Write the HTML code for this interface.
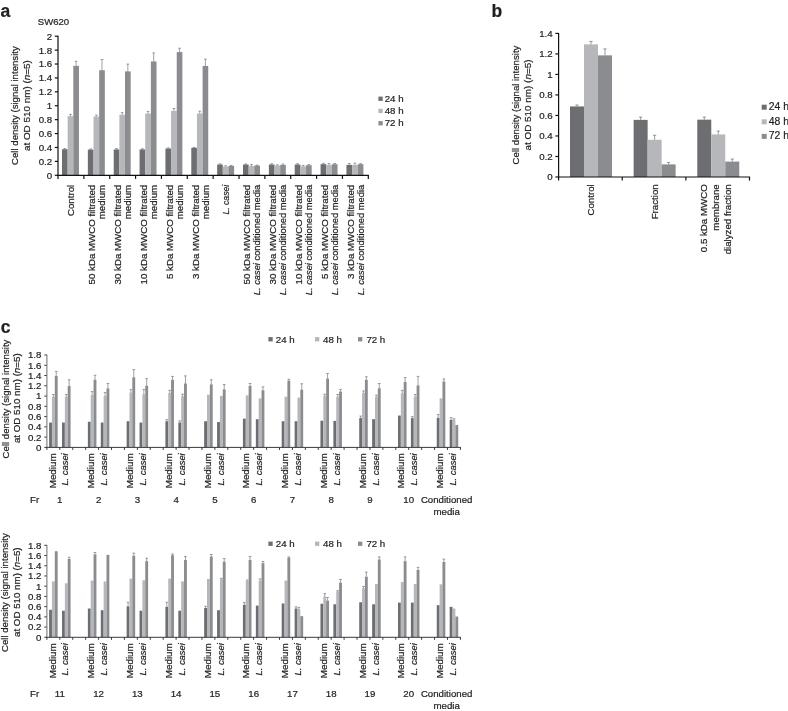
<!DOCTYPE html>
<html><head><meta charset="utf-8"><title>Figure</title>
<style>
html,body{margin:0;padding:0;background:#fff;}
svg{display:block;}
text{font-family:"Liberation Sans",Arial,Helvetica,sans-serif;font-size:9.7px;fill:#231f20;stroke:#231f20;stroke-width:0.22px;}
</style></head><body>
<svg width="788" height="711" viewBox="0 0 788 711">
<rect width="788" height="711" fill="#fff"/>
<text x="0.40" y="16.80" style="font-size:17.5px" font-weight="bold">a</text>
<text x="37.80" y="24.80" textLength="31.4" lengthAdjust="spacingAndGlyphs">SW620</text>
<text x="18.20" y="105.60" text-anchor="middle" transform="rotate(-90 18.20 105.60)" textLength="118.8" lengthAdjust="spacingAndGlyphs">Cell density (signal intensity</text>
<text x="30.00" y="105.60" text-anchor="middle" transform="rotate(-90 30.00 105.60)" textLength="91.0" lengthAdjust="spacingAndGlyphs">at OD 510 nm) (<tspan font-style="italic">n</tspan>=5)</text>
<line x1="54.80" y1="175.30" x2="58.00" y2="175.30" stroke="#111" stroke-width="1.2"/>
<text x="52.20" y="178.70" text-anchor="end">0</text>
<line x1="54.80" y1="161.39" x2="58.00" y2="161.39" stroke="#111" stroke-width="1.2"/>
<text x="52.20" y="164.79" text-anchor="end">0.2</text>
<line x1="54.80" y1="147.48" x2="58.00" y2="147.48" stroke="#111" stroke-width="1.2"/>
<text x="52.20" y="150.88" text-anchor="end">0.4</text>
<line x1="54.80" y1="133.57" x2="58.00" y2="133.57" stroke="#111" stroke-width="1.2"/>
<text x="52.20" y="136.97" text-anchor="end">0.6</text>
<line x1="54.80" y1="119.66" x2="58.00" y2="119.66" stroke="#111" stroke-width="1.2"/>
<text x="52.20" y="123.06" text-anchor="end">0.8</text>
<line x1="54.80" y1="105.75" x2="58.00" y2="105.75" stroke="#111" stroke-width="1.2"/>
<text x="52.20" y="109.15" text-anchor="end">1</text>
<line x1="54.80" y1="91.84" x2="58.00" y2="91.84" stroke="#111" stroke-width="1.2"/>
<text x="52.20" y="95.24" text-anchor="end">1.2</text>
<line x1="54.80" y1="77.93" x2="58.00" y2="77.93" stroke="#111" stroke-width="1.2"/>
<text x="52.20" y="81.33" text-anchor="end">1.4</text>
<line x1="54.80" y1="64.02" x2="58.00" y2="64.02" stroke="#111" stroke-width="1.2"/>
<text x="52.20" y="67.42" text-anchor="end">1.6</text>
<line x1="54.80" y1="50.11" x2="58.00" y2="50.11" stroke="#111" stroke-width="1.2"/>
<text x="52.20" y="53.51" text-anchor="end">1.8</text>
<line x1="54.80" y1="36.20" x2="58.00" y2="36.20" stroke="#111" stroke-width="1.2"/>
<text x="52.20" y="39.60" text-anchor="end">2</text>
<rect x="62.00" y="149.22" width="5.65" height="26.08" fill="#6d6e71"/>
<line x1="64.83" y1="149.22" x2="64.83" y2="148.52" stroke="#6d6e71" stroke-width="0.65"/>
<line x1="63.48" y1="148.52" x2="66.17" y2="148.52" stroke="#6d6e71" stroke-width="0.65"/>
<rect x="67.65" y="116.18" width="5.65" height="59.12" fill="#b5b7ba"/>
<line x1="70.48" y1="116.18" x2="70.48" y2="114.44" stroke="#6d6e71" stroke-width="0.65"/>
<line x1="69.13" y1="114.44" x2="71.83" y2="114.44" stroke="#6d6e71" stroke-width="0.65"/>
<rect x="73.30" y="65.83" width="5.65" height="109.47" fill="#8a8c8f"/>
<line x1="76.12" y1="65.83" x2="76.12" y2="61.31" stroke="#6d6e71" stroke-width="0.65"/>
<line x1="74.78" y1="61.31" x2="77.47" y2="61.31" stroke="#6d6e71" stroke-width="0.65"/>
<rect x="87.86" y="149.57" width="5.65" height="25.73" fill="#6d6e71"/>
<line x1="90.68" y1="149.57" x2="90.68" y2="148.87" stroke="#6d6e71" stroke-width="0.65"/>
<line x1="89.33" y1="148.87" x2="92.03" y2="148.87" stroke="#6d6e71" stroke-width="0.65"/>
<rect x="93.51" y="116.53" width="5.65" height="58.77" fill="#b5b7ba"/>
<line x1="96.33" y1="116.53" x2="96.33" y2="115.14" stroke="#6d6e71" stroke-width="0.65"/>
<line x1="94.98" y1="115.14" x2="97.68" y2="115.14" stroke="#6d6e71" stroke-width="0.65"/>
<rect x="99.16" y="70.21" width="5.65" height="105.09" fill="#8a8c8f"/>
<line x1="101.98" y1="70.21" x2="101.98" y2="59.50" stroke="#6d6e71" stroke-width="0.65"/>
<line x1="100.63" y1="59.50" x2="103.33" y2="59.50" stroke="#6d6e71" stroke-width="0.65"/>
<rect x="113.72" y="149.43" width="5.65" height="25.87" fill="#6d6e71"/>
<line x1="116.54" y1="149.43" x2="116.54" y2="148.59" stroke="#6d6e71" stroke-width="0.65"/>
<line x1="115.19" y1="148.59" x2="117.89" y2="148.59" stroke="#6d6e71" stroke-width="0.65"/>
<rect x="119.37" y="114.79" width="5.65" height="60.51" fill="#b5b7ba"/>
<line x1="122.19" y1="114.79" x2="122.19" y2="112.70" stroke="#6d6e71" stroke-width="0.65"/>
<line x1="120.84" y1="112.70" x2="123.54" y2="112.70" stroke="#6d6e71" stroke-width="0.65"/>
<rect x="125.02" y="71.39" width="5.65" height="103.91" fill="#8a8c8f"/>
<line x1="127.84" y1="71.39" x2="127.84" y2="64.09" stroke="#6d6e71" stroke-width="0.65"/>
<line x1="126.49" y1="64.09" x2="129.19" y2="64.09" stroke="#6d6e71" stroke-width="0.65"/>
<rect x="139.57" y="149.43" width="5.65" height="25.87" fill="#6d6e71"/>
<line x1="142.40" y1="149.43" x2="142.40" y2="148.73" stroke="#6d6e71" stroke-width="0.65"/>
<line x1="141.05" y1="148.73" x2="143.75" y2="148.73" stroke="#6d6e71" stroke-width="0.65"/>
<rect x="145.22" y="113.54" width="5.65" height="61.76" fill="#b5b7ba"/>
<line x1="148.05" y1="113.54" x2="148.05" y2="111.45" stroke="#6d6e71" stroke-width="0.65"/>
<line x1="146.70" y1="111.45" x2="149.40" y2="111.45" stroke="#6d6e71" stroke-width="0.65"/>
<rect x="150.88" y="61.45" width="5.65" height="113.85" fill="#8a8c8f"/>
<line x1="153.70" y1="61.45" x2="153.70" y2="52.89" stroke="#6d6e71" stroke-width="0.65"/>
<line x1="152.35" y1="52.89" x2="155.05" y2="52.89" stroke="#6d6e71" stroke-width="0.65"/>
<rect x="165.43" y="148.52" width="5.65" height="26.78" fill="#6d6e71"/>
<line x1="168.26" y1="148.52" x2="168.26" y2="147.83" stroke="#6d6e71" stroke-width="0.65"/>
<line x1="166.91" y1="147.83" x2="169.61" y2="147.83" stroke="#6d6e71" stroke-width="0.65"/>
<rect x="171.08" y="110.97" width="5.65" height="64.33" fill="#b5b7ba"/>
<line x1="173.91" y1="110.97" x2="173.91" y2="108.53" stroke="#6d6e71" stroke-width="0.65"/>
<line x1="172.56" y1="108.53" x2="175.26" y2="108.53" stroke="#6d6e71" stroke-width="0.65"/>
<rect x="176.73" y="52.06" width="5.65" height="123.24" fill="#8a8c8f"/>
<line x1="179.56" y1="52.06" x2="179.56" y2="48.23" stroke="#6d6e71" stroke-width="0.65"/>
<line x1="178.21" y1="48.23" x2="180.91" y2="48.23" stroke="#6d6e71" stroke-width="0.65"/>
<rect x="191.29" y="147.83" width="5.65" height="27.47" fill="#6d6e71"/>
<line x1="194.12" y1="147.83" x2="194.12" y2="147.41" stroke="#6d6e71" stroke-width="0.65"/>
<line x1="192.77" y1="147.41" x2="195.47" y2="147.41" stroke="#6d6e71" stroke-width="0.65"/>
<rect x="196.94" y="113.54" width="5.65" height="61.76" fill="#b5b7ba"/>
<line x1="199.77" y1="113.54" x2="199.77" y2="111.11" stroke="#6d6e71" stroke-width="0.65"/>
<line x1="198.42" y1="111.11" x2="201.12" y2="111.11" stroke="#6d6e71" stroke-width="0.65"/>
<rect x="202.59" y="65.97" width="5.65" height="109.33" fill="#8a8c8f"/>
<line x1="205.42" y1="65.97" x2="205.42" y2="59.15" stroke="#6d6e71" stroke-width="0.65"/>
<line x1="204.07" y1="59.15" x2="206.77" y2="59.15" stroke="#6d6e71" stroke-width="0.65"/>
<rect x="217.15" y="164.52" width="5.65" height="10.78" fill="#6d6e71"/>
<line x1="219.97" y1="164.52" x2="219.97" y2="163.82" stroke="#6d6e71" stroke-width="0.65"/>
<line x1="218.62" y1="163.82" x2="221.32" y2="163.82" stroke="#6d6e71" stroke-width="0.65"/>
<rect x="222.80" y="166.61" width="5.65" height="8.69" fill="#b5b7ba"/>
<line x1="225.62" y1="166.61" x2="225.62" y2="165.77" stroke="#6d6e71" stroke-width="0.65"/>
<line x1="224.28" y1="165.77" x2="226.97" y2="165.77" stroke="#6d6e71" stroke-width="0.65"/>
<rect x="228.45" y="165.91" width="5.65" height="9.39" fill="#8a8c8f"/>
<line x1="231.28" y1="165.91" x2="231.28" y2="165.35" stroke="#6d6e71" stroke-width="0.65"/>
<line x1="229.93" y1="165.35" x2="232.62" y2="165.35" stroke="#6d6e71" stroke-width="0.65"/>
<rect x="243.01" y="164.52" width="5.65" height="10.78" fill="#6d6e71"/>
<line x1="245.83" y1="164.52" x2="245.83" y2="163.96" stroke="#6d6e71" stroke-width="0.65"/>
<line x1="244.48" y1="163.96" x2="247.18" y2="163.96" stroke="#6d6e71" stroke-width="0.65"/>
<rect x="248.66" y="165.91" width="5.65" height="9.39" fill="#b5b7ba"/>
<line x1="251.48" y1="165.91" x2="251.48" y2="164.52" stroke="#6d6e71" stroke-width="0.65"/>
<line x1="250.13" y1="164.52" x2="252.83" y2="164.52" stroke="#6d6e71" stroke-width="0.65"/>
<rect x="254.31" y="165.56" width="5.65" height="9.74" fill="#8a8c8f"/>
<line x1="257.13" y1="165.56" x2="257.13" y2="165.15" stroke="#6d6e71" stroke-width="0.65"/>
<line x1="255.78" y1="165.15" x2="258.48" y2="165.15" stroke="#6d6e71" stroke-width="0.65"/>
<rect x="268.87" y="164.52" width="5.65" height="10.78" fill="#6d6e71"/>
<line x1="271.69" y1="164.52" x2="271.69" y2="163.69" stroke="#6d6e71" stroke-width="0.65"/>
<line x1="270.34" y1="163.69" x2="273.04" y2="163.69" stroke="#6d6e71" stroke-width="0.65"/>
<rect x="274.52" y="165.56" width="5.65" height="9.74" fill="#b5b7ba"/>
<line x1="277.34" y1="165.56" x2="277.34" y2="164.87" stroke="#6d6e71" stroke-width="0.65"/>
<line x1="275.99" y1="164.87" x2="278.69" y2="164.87" stroke="#6d6e71" stroke-width="0.65"/>
<rect x="280.17" y="164.87" width="5.65" height="10.43" fill="#8a8c8f"/>
<line x1="282.99" y1="164.87" x2="282.99" y2="164.03" stroke="#6d6e71" stroke-width="0.65"/>
<line x1="281.64" y1="164.03" x2="284.34" y2="164.03" stroke="#6d6e71" stroke-width="0.65"/>
<rect x="294.73" y="164.52" width="5.65" height="10.78" fill="#6d6e71"/>
<line x1="297.55" y1="164.52" x2="297.55" y2="163.69" stroke="#6d6e71" stroke-width="0.65"/>
<line x1="296.20" y1="163.69" x2="298.90" y2="163.69" stroke="#6d6e71" stroke-width="0.65"/>
<rect x="300.38" y="166.26" width="5.65" height="9.04" fill="#b5b7ba"/>
<line x1="303.20" y1="166.26" x2="303.20" y2="165.42" stroke="#6d6e71" stroke-width="0.65"/>
<line x1="301.85" y1="165.42" x2="304.55" y2="165.42" stroke="#6d6e71" stroke-width="0.65"/>
<rect x="306.03" y="165.22" width="5.65" height="10.08" fill="#8a8c8f"/>
<line x1="308.85" y1="165.22" x2="308.85" y2="164.52" stroke="#6d6e71" stroke-width="0.65"/>
<line x1="307.50" y1="164.52" x2="310.20" y2="164.52" stroke="#6d6e71" stroke-width="0.65"/>
<rect x="320.58" y="164.17" width="5.65" height="11.13" fill="#6d6e71"/>
<line x1="323.41" y1="164.17" x2="323.41" y2="163.34" stroke="#6d6e71" stroke-width="0.65"/>
<line x1="322.06" y1="163.34" x2="324.76" y2="163.34" stroke="#6d6e71" stroke-width="0.65"/>
<rect x="326.23" y="164.87" width="5.65" height="10.43" fill="#b5b7ba"/>
<line x1="329.06" y1="164.87" x2="329.06" y2="163.48" stroke="#6d6e71" stroke-width="0.65"/>
<line x1="327.71" y1="163.48" x2="330.41" y2="163.48" stroke="#6d6e71" stroke-width="0.65"/>
<rect x="331.88" y="164.17" width="5.65" height="11.13" fill="#8a8c8f"/>
<line x1="334.71" y1="164.17" x2="334.71" y2="163.48" stroke="#6d6e71" stroke-width="0.65"/>
<line x1="333.36" y1="163.48" x2="336.06" y2="163.48" stroke="#6d6e71" stroke-width="0.65"/>
<rect x="346.44" y="164.87" width="5.65" height="10.43" fill="#6d6e71"/>
<line x1="349.27" y1="164.87" x2="349.27" y2="163.48" stroke="#6d6e71" stroke-width="0.65"/>
<line x1="347.92" y1="163.48" x2="350.62" y2="163.48" stroke="#6d6e71" stroke-width="0.65"/>
<rect x="352.09" y="164.87" width="5.65" height="10.43" fill="#b5b7ba"/>
<line x1="354.92" y1="164.87" x2="354.92" y2="163.13" stroke="#6d6e71" stroke-width="0.65"/>
<line x1="353.57" y1="163.13" x2="356.27" y2="163.13" stroke="#6d6e71" stroke-width="0.65"/>
<rect x="357.74" y="164.17" width="5.65" height="11.13" fill="#8a8c8f"/>
<line x1="360.57" y1="164.17" x2="360.57" y2="163.62" stroke="#6d6e71" stroke-width="0.65"/>
<line x1="359.22" y1="163.62" x2="361.92" y2="163.62" stroke="#6d6e71" stroke-width="0.65"/>
<line x1="58.00" y1="35.70" x2="58.00" y2="175.90" stroke="#111" stroke-width="1.2"/>
<line x1="57.40" y1="175.30" x2="368.90" y2="175.30" stroke="#111" stroke-width="1.2"/>
<line x1="58.00" y1="175.30" x2="58.00" y2="178.90" stroke="#111" stroke-width="1.2"/>
<line x1="83.86" y1="175.30" x2="83.86" y2="178.90" stroke="#111" stroke-width="1.2"/>
<line x1="109.72" y1="175.30" x2="109.72" y2="178.90" stroke="#111" stroke-width="1.2"/>
<line x1="135.57" y1="175.30" x2="135.57" y2="178.90" stroke="#111" stroke-width="1.2"/>
<line x1="161.43" y1="175.30" x2="161.43" y2="178.90" stroke="#111" stroke-width="1.2"/>
<line x1="187.29" y1="175.30" x2="187.29" y2="178.90" stroke="#111" stroke-width="1.2"/>
<line x1="213.15" y1="175.30" x2="213.15" y2="178.90" stroke="#111" stroke-width="1.2"/>
<line x1="239.01" y1="175.30" x2="239.01" y2="178.90" stroke="#111" stroke-width="1.2"/>
<line x1="264.87" y1="175.30" x2="264.87" y2="178.90" stroke="#111" stroke-width="1.2"/>
<line x1="290.73" y1="175.30" x2="290.73" y2="178.90" stroke="#111" stroke-width="1.2"/>
<line x1="316.58" y1="175.30" x2="316.58" y2="178.90" stroke="#111" stroke-width="1.2"/>
<line x1="342.44" y1="175.30" x2="342.44" y2="178.90" stroke="#111" stroke-width="1.2"/>
<line x1="368.30" y1="175.30" x2="368.30" y2="178.90" stroke="#111" stroke-width="1.2"/>
<text x="73.93" y="184.80" text-anchor="end" transform="rotate(-90 73.93 184.80)">Control</text>
<text x="95.19" y="184.80" text-anchor="end" transform="rotate(-90 95.19 184.80)">50 kDa MWCO filtrated</text>
<text x="105.19" y="184.80" text-anchor="end" transform="rotate(-90 105.19 184.80)">medium</text>
<text x="121.05" y="184.80" text-anchor="end" transform="rotate(-90 121.05 184.80)">30 kDa MWCO filtrated</text>
<text x="131.05" y="184.80" text-anchor="end" transform="rotate(-90 131.05 184.80)">medium</text>
<text x="146.90" y="184.80" text-anchor="end" transform="rotate(-90 146.90 184.80)">10 kDa MWCO filtrated</text>
<text x="156.90" y="184.80" text-anchor="end" transform="rotate(-90 156.90 184.80)">medium</text>
<text x="172.76" y="184.80" text-anchor="end" transform="rotate(-90 172.76 184.80)">5 kDa MWCO filtrated</text>
<text x="182.76" y="184.80" text-anchor="end" transform="rotate(-90 182.76 184.80)">medium</text>
<text x="198.62" y="184.80" text-anchor="end" transform="rotate(-90 198.62 184.80)">3 kDa MWCO filtrated</text>
<text x="208.62" y="184.80" text-anchor="end" transform="rotate(-90 208.62 184.80)">medium</text>
<text x="229.08" y="184.80" text-anchor="end" transform="rotate(-90 229.08 184.80)" textLength="29.8" lengthAdjust="spacingAndGlyphs"><tspan font-style="italic">L. casei</tspan></text>
<text x="250.34" y="184.80" text-anchor="end" transform="rotate(-90 250.34 184.80)">50 kDa MWCO filtrated</text>
<text x="260.34" y="184.80" text-anchor="end" transform="rotate(-90 260.34 184.80)" textLength="110.4" lengthAdjust="spacingAndGlyphs"><tspan font-style="italic">L. casei</tspan> conditioned media</text>
<text x="276.20" y="184.80" text-anchor="end" transform="rotate(-90 276.20 184.80)">30 kDa MWCO filtrated</text>
<text x="286.20" y="184.80" text-anchor="end" transform="rotate(-90 286.20 184.80)" textLength="110.4" lengthAdjust="spacingAndGlyphs"><tspan font-style="italic">L. casei</tspan> conditioned media</text>
<text x="302.05" y="184.80" text-anchor="end" transform="rotate(-90 302.05 184.80)">10 kDa MWCO filtrated</text>
<text x="312.05" y="184.80" text-anchor="end" transform="rotate(-90 312.05 184.80)" textLength="110.4" lengthAdjust="spacingAndGlyphs"><tspan font-style="italic">L. casei</tspan> conditioned media</text>
<text x="327.91" y="184.80" text-anchor="end" transform="rotate(-90 327.91 184.80)">5 kDa MWCO filtrated</text>
<text x="337.91" y="184.80" text-anchor="end" transform="rotate(-90 337.91 184.80)" textLength="110.4" lengthAdjust="spacingAndGlyphs"><tspan font-style="italic">L. casei</tspan> conditioned media</text>
<text x="353.77" y="184.80" text-anchor="end" transform="rotate(-90 353.77 184.80)">3 kDa MWCO filtrated</text>
<text x="363.77" y="184.80" text-anchor="end" transform="rotate(-90 363.77 184.80)" textLength="110.4" lengthAdjust="spacingAndGlyphs"><tspan font-style="italic">L. casei</tspan> conditioned media</text>
<rect x="378.40" y="96.60" width="4.30" height="4.30" fill="#6d6e71"/>
<text x="384.70" y="101.60">24 h</text>
<rect x="378.40" y="108.80" width="4.30" height="4.30" fill="#b5b7ba"/>
<text x="384.70" y="113.80">48 h</text>
<rect x="378.40" y="121.10" width="4.30" height="4.30" fill="#8a8c8f"/>
<text x="384.70" y="126.00">72 h</text>
<text x="491.60" y="16.70" style="font-size:17.5px" font-weight="bold">b</text>
<line x1="555.40" y1="177.00" x2="558.60" y2="177.00" stroke="#111" stroke-width="1.2"/>
<text x="552.60" y="180.40" text-anchor="end">0</text>
<line x1="555.40" y1="156.49" x2="558.60" y2="156.49" stroke="#111" stroke-width="1.2"/>
<text x="552.60" y="159.89" text-anchor="end">0.2</text>
<line x1="555.40" y1="135.97" x2="558.60" y2="135.97" stroke="#111" stroke-width="1.2"/>
<text x="552.60" y="139.37" text-anchor="end">0.4</text>
<line x1="555.40" y1="115.46" x2="558.60" y2="115.46" stroke="#111" stroke-width="1.2"/>
<text x="552.60" y="118.86" text-anchor="end">0.6</text>
<line x1="555.40" y1="94.94" x2="558.60" y2="94.94" stroke="#111" stroke-width="1.2"/>
<text x="552.60" y="98.34" text-anchor="end">0.8</text>
<line x1="555.40" y1="74.43" x2="558.60" y2="74.43" stroke="#111" stroke-width="1.2"/>
<text x="552.60" y="77.83" text-anchor="end">1</text>
<line x1="555.40" y1="53.91" x2="558.60" y2="53.91" stroke="#111" stroke-width="1.2"/>
<text x="552.60" y="57.31" text-anchor="end">1.2</text>
<line x1="555.40" y1="33.40" x2="558.60" y2="33.40" stroke="#111" stroke-width="1.2"/>
<text x="552.60" y="36.80" text-anchor="end">1.4</text>
<text x="519.00" y="105.00" text-anchor="middle" transform="rotate(-90 519.00 105.00)" textLength="118.8" lengthAdjust="spacingAndGlyphs">Cell density (signal intensity</text>
<text x="530.80" y="105.00" text-anchor="middle" transform="rotate(-90 530.80 105.00)" textLength="91.0" lengthAdjust="spacingAndGlyphs">at OD 510 nm) (<tspan font-style="italic">n</tspan>=5)</text>
<rect x="570.00" y="106.43" width="14.00" height="70.57" fill="#6d6e71"/>
<line x1="577.00" y1="106.43" x2="577.00" y2="104.99" stroke="#6d6e71" stroke-width="0.7"/>
<line x1="575.40" y1="104.99" x2="578.60" y2="104.99" stroke="#6d6e71" stroke-width="0.7"/>
<rect x="584.00" y="44.38" width="14.00" height="132.62" fill="#b5b7ba"/>
<line x1="591.00" y1="44.38" x2="591.00" y2="41.40" stroke="#6d6e71" stroke-width="0.7"/>
<line x1="589.40" y1="41.40" x2="592.60" y2="41.40" stroke="#6d6e71" stroke-width="0.7"/>
<rect x="598.00" y="55.35" width="14.00" height="121.65" fill="#8a8c8f"/>
<line x1="605.00" y1="55.35" x2="605.00" y2="48.89" stroke="#6d6e71" stroke-width="0.7"/>
<line x1="603.40" y1="48.89" x2="606.60" y2="48.89" stroke="#6d6e71" stroke-width="0.7"/>
<rect x="633.63" y="119.87" width="14.00" height="57.13" fill="#6d6e71"/>
<line x1="640.63" y1="119.87" x2="640.63" y2="117.10" stroke="#6d6e71" stroke-width="0.7"/>
<line x1="639.03" y1="117.10" x2="642.23" y2="117.10" stroke="#6d6e71" stroke-width="0.7"/>
<rect x="647.63" y="139.77" width="14.00" height="37.23" fill="#b5b7ba"/>
<line x1="654.63" y1="139.77" x2="654.63" y2="135.25" stroke="#6d6e71" stroke-width="0.7"/>
<line x1="653.03" y1="135.25" x2="656.23" y2="135.25" stroke="#6d6e71" stroke-width="0.7"/>
<rect x="661.63" y="164.38" width="14.00" height="12.62" fill="#8a8c8f"/>
<line x1="668.63" y1="164.38" x2="668.63" y2="162.43" stroke="#6d6e71" stroke-width="0.7"/>
<line x1="667.03" y1="162.43" x2="670.23" y2="162.43" stroke="#6d6e71" stroke-width="0.7"/>
<rect x="697.27" y="119.66" width="14.00" height="57.34" fill="#6d6e71"/>
<line x1="704.27" y1="119.66" x2="704.27" y2="117.10" stroke="#6d6e71" stroke-width="0.7"/>
<line x1="702.67" y1="117.10" x2="705.87" y2="117.10" stroke="#6d6e71" stroke-width="0.7"/>
<rect x="711.27" y="134.43" width="14.00" height="42.57" fill="#b5b7ba"/>
<line x1="718.27" y1="134.43" x2="718.27" y2="131.05" stroke="#6d6e71" stroke-width="0.7"/>
<line x1="716.67" y1="131.05" x2="719.87" y2="131.05" stroke="#6d6e71" stroke-width="0.7"/>
<rect x="725.27" y="161.61" width="14.00" height="15.39" fill="#8a8c8f"/>
<line x1="732.27" y1="161.61" x2="732.27" y2="159.05" stroke="#6d6e71" stroke-width="0.7"/>
<line x1="730.67" y1="159.05" x2="733.87" y2="159.05" stroke="#6d6e71" stroke-width="0.7"/>
<line x1="558.60" y1="32.90" x2="558.60" y2="177.60" stroke="#111" stroke-width="1.2"/>
<line x1="558.00" y1="177.00" x2="750.10" y2="177.00" stroke="#111" stroke-width="1.2"/>
<line x1="558.60" y1="177.00" x2="558.60" y2="180.60" stroke="#111" stroke-width="1.2"/>
<line x1="622.23" y1="177.00" x2="622.23" y2="180.60" stroke="#111" stroke-width="1.2"/>
<line x1="685.87" y1="177.00" x2="685.87" y2="180.60" stroke="#111" stroke-width="1.2"/>
<line x1="749.50" y1="177.00" x2="749.50" y2="180.60" stroke="#111" stroke-width="1.2"/>
<text x="594.20" y="184.30" text-anchor="end" transform="rotate(-90 594.20 184.30)">Control</text>
<text x="658.50" y="184.30" text-anchor="end" transform="rotate(-90 658.50 184.30)">Fraction</text>
<text x="706.80" y="184.30" text-anchor="end" transform="rotate(-90 706.80 184.30)">0.5 kDa MWCO</text>
<text x="718.70" y="184.30" text-anchor="end" transform="rotate(-90 718.70 184.30)">membrane</text>
<text x="730.60" y="184.30" text-anchor="end" transform="rotate(-90 730.60 184.30)">dialyzed fraction</text>
<rect x="761.70" y="104.70" width="5.00" height="5.00" fill="#6d6e71"/>
<text x="768.70" y="110.10" style="font-size:10.4px">24 h</text>
<rect x="761.70" y="119.30" width="5.00" height="5.00" fill="#b5b7ba"/>
<text x="768.70" y="124.70" style="font-size:10.4px">48 h</text>
<rect x="761.70" y="133.90" width="5.00" height="5.00" fill="#8a8c8f"/>
<text x="768.70" y="139.00" style="font-size:10.4px">72 h</text>
<text x="0.80" y="332.60" style="font-size:17.5px" font-weight="bold">c</text>
<text x="8.80" y="399.00" text-anchor="middle" transform="rotate(-90 8.80 399.00)" textLength="118.8" lengthAdjust="spacingAndGlyphs">Cell density (signal intensity</text>
<text x="19.80" y="398.20" text-anchor="middle" transform="rotate(-90 19.80 398.20)" textLength="89.8" lengthAdjust="spacingAndGlyphs">at OD 510 nm) (<tspan font-style="italic">n</tspan>=5)</text>
<line x1="44.30" y1="447.40" x2="46.90" y2="447.40" stroke="#3a3a3c" stroke-width="1.0"/>
<text x="41.40" y="450.80" text-anchor="end">0</text>
<line x1="44.30" y1="437.13" x2="46.90" y2="437.13" stroke="#3a3a3c" stroke-width="1.0"/>
<text x="41.40" y="440.53" text-anchor="end">0.2</text>
<line x1="44.30" y1="426.87" x2="46.90" y2="426.87" stroke="#3a3a3c" stroke-width="1.0"/>
<text x="41.40" y="430.27" text-anchor="end">0.4</text>
<line x1="44.30" y1="416.60" x2="46.90" y2="416.60" stroke="#3a3a3c" stroke-width="1.0"/>
<text x="41.40" y="420.00" text-anchor="end">0.6</text>
<line x1="44.30" y1="406.33" x2="46.90" y2="406.33" stroke="#3a3a3c" stroke-width="1.0"/>
<text x="41.40" y="409.73" text-anchor="end">0.8</text>
<line x1="44.30" y1="396.07" x2="46.90" y2="396.07" stroke="#3a3a3c" stroke-width="1.0"/>
<text x="41.40" y="399.47" text-anchor="end">1</text>
<line x1="44.30" y1="385.80" x2="46.90" y2="385.80" stroke="#3a3a3c" stroke-width="1.0"/>
<text x="41.40" y="389.20" text-anchor="end">1.2</text>
<line x1="44.30" y1="375.53" x2="46.90" y2="375.53" stroke="#3a3a3c" stroke-width="1.0"/>
<text x="41.40" y="378.93" text-anchor="end">1.4</text>
<line x1="44.30" y1="365.27" x2="46.90" y2="365.27" stroke="#3a3a3c" stroke-width="1.0"/>
<text x="41.40" y="368.67" text-anchor="end">1.6</text>
<line x1="44.30" y1="355.00" x2="46.90" y2="355.00" stroke="#3a3a3c" stroke-width="1.0"/>
<text x="41.40" y="358.40" text-anchor="end">1.8</text>
<rect x="49.10" y="422.55" width="2.85" height="24.85" fill="#6d6e71"/>
<rect x="51.95" y="396.68" width="2.85" height="50.72" fill="#b5b7ba"/>
<line x1="53.38" y1="396.68" x2="53.38" y2="394.53" stroke="#6d6e71" stroke-width="0.65"/>
<line x1="52.02" y1="394.53" x2="54.73" y2="394.53" stroke="#6d6e71" stroke-width="0.65"/>
<rect x="54.80" y="375.89" width="2.85" height="71.51" fill="#8a8c8f"/>
<line x1="56.23" y1="375.89" x2="56.23" y2="371.43" stroke="#6d6e71" stroke-width="0.65"/>
<line x1="54.88" y1="371.43" x2="57.58" y2="371.43" stroke="#6d6e71" stroke-width="0.65"/>
<rect x="62.02" y="422.55" width="2.85" height="24.85" fill="#6d6e71"/>
<rect x="64.87" y="396.68" width="2.85" height="50.72" fill="#b5b7ba"/>
<line x1="66.30" y1="396.68" x2="66.30" y2="394.53" stroke="#6d6e71" stroke-width="0.65"/>
<line x1="64.95" y1="394.53" x2="67.65" y2="394.53" stroke="#6d6e71" stroke-width="0.65"/>
<rect x="67.72" y="386.06" width="2.85" height="61.34" fill="#8a8c8f"/>
<line x1="69.15" y1="386.06" x2="69.15" y2="379.79" stroke="#6d6e71" stroke-width="0.65"/>
<line x1="67.80" y1="379.79" x2="70.50" y2="379.79" stroke="#6d6e71" stroke-width="0.65"/>
<rect x="87.87" y="421.73" width="2.85" height="25.67" fill="#6d6e71"/>
<rect x="90.72" y="395.04" width="2.85" height="52.36" fill="#b5b7ba"/>
<line x1="92.14" y1="395.04" x2="92.14" y2="391.60" stroke="#6d6e71" stroke-width="0.65"/>
<line x1="90.79" y1="391.60" x2="93.49" y2="391.60" stroke="#6d6e71" stroke-width="0.65"/>
<rect x="93.57" y="379.79" width="2.85" height="67.61" fill="#8a8c8f"/>
<line x1="94.99" y1="379.79" x2="94.99" y2="375.23" stroke="#6d6e71" stroke-width="0.65"/>
<line x1="93.64" y1="375.23" x2="96.34" y2="375.23" stroke="#6d6e71" stroke-width="0.65"/>
<rect x="100.79" y="422.55" width="2.85" height="24.85" fill="#6d6e71"/>
<rect x="103.64" y="396.07" width="2.85" height="51.33" fill="#b5b7ba"/>
<line x1="105.06" y1="396.07" x2="105.06" y2="392.47" stroke="#6d6e71" stroke-width="0.65"/>
<line x1="103.71" y1="392.47" x2="106.41" y2="392.47" stroke="#6d6e71" stroke-width="0.65"/>
<rect x="106.49" y="388.37" width="2.85" height="59.03" fill="#8a8c8f"/>
<line x1="107.91" y1="388.37" x2="107.91" y2="383.49" stroke="#6d6e71" stroke-width="0.65"/>
<line x1="106.56" y1="383.49" x2="109.26" y2="383.49" stroke="#6d6e71" stroke-width="0.65"/>
<rect x="126.63" y="421.22" width="2.85" height="26.18" fill="#6d6e71"/>
<rect x="129.48" y="392.47" width="2.85" height="54.93" fill="#b5b7ba"/>
<line x1="130.91" y1="392.47" x2="130.91" y2="389.60" stroke="#6d6e71" stroke-width="0.65"/>
<line x1="129.56" y1="389.60" x2="132.26" y2="389.60" stroke="#6d6e71" stroke-width="0.65"/>
<rect x="132.33" y="377.28" width="2.85" height="70.12" fill="#8a8c8f"/>
<line x1="133.76" y1="377.28" x2="133.76" y2="369.63" stroke="#6d6e71" stroke-width="0.65"/>
<line x1="132.41" y1="369.63" x2="135.11" y2="369.63" stroke="#6d6e71" stroke-width="0.65"/>
<rect x="139.55" y="422.55" width="2.85" height="24.85" fill="#6d6e71"/>
<rect x="142.40" y="394.17" width="2.85" height="53.23" fill="#b5b7ba"/>
<line x1="143.83" y1="394.17" x2="143.83" y2="389.60" stroke="#6d6e71" stroke-width="0.65"/>
<line x1="142.48" y1="389.60" x2="145.18" y2="389.60" stroke="#6d6e71" stroke-width="0.65"/>
<rect x="145.25" y="385.80" width="2.85" height="61.60" fill="#8a8c8f"/>
<line x1="146.68" y1="385.80" x2="146.68" y2="378.61" stroke="#6d6e71" stroke-width="0.65"/>
<line x1="145.33" y1="378.61" x2="148.03" y2="378.61" stroke="#6d6e71" stroke-width="0.65"/>
<rect x="165.40" y="421.22" width="2.85" height="26.18" fill="#6d6e71"/>
<line x1="166.82" y1="421.22" x2="166.82" y2="419.68" stroke="#6d6e71" stroke-width="0.65"/>
<line x1="165.47" y1="419.68" x2="168.17" y2="419.68" stroke="#6d6e71" stroke-width="0.65"/>
<rect x="168.25" y="392.99" width="2.85" height="54.41" fill="#b5b7ba"/>
<line x1="169.67" y1="392.99" x2="169.67" y2="390.42" stroke="#6d6e71" stroke-width="0.65"/>
<line x1="168.32" y1="390.42" x2="171.02" y2="390.42" stroke="#6d6e71" stroke-width="0.65"/>
<rect x="171.10" y="379.79" width="2.85" height="67.61" fill="#8a8c8f"/>
<line x1="172.52" y1="379.79" x2="172.52" y2="376.41" stroke="#6d6e71" stroke-width="0.65"/>
<line x1="171.17" y1="376.41" x2="173.87" y2="376.41" stroke="#6d6e71" stroke-width="0.65"/>
<rect x="178.32" y="422.55" width="2.85" height="24.85" fill="#6d6e71"/>
<line x1="179.74" y1="422.55" x2="179.74" y2="420.86" stroke="#6d6e71" stroke-width="0.65"/>
<line x1="178.39" y1="420.86" x2="181.09" y2="420.86" stroke="#6d6e71" stroke-width="0.65"/>
<rect x="181.17" y="396.17" width="2.85" height="51.23" fill="#b5b7ba"/>
<line x1="182.59" y1="396.17" x2="182.59" y2="394.17" stroke="#6d6e71" stroke-width="0.65"/>
<line x1="181.24" y1="394.17" x2="183.94" y2="394.17" stroke="#6d6e71" stroke-width="0.65"/>
<rect x="184.02" y="383.49" width="2.85" height="63.91" fill="#8a8c8f"/>
<line x1="185.44" y1="383.49" x2="185.44" y2="375.89" stroke="#6d6e71" stroke-width="0.65"/>
<line x1="184.09" y1="375.89" x2="186.79" y2="375.89" stroke="#6d6e71" stroke-width="0.65"/>
<rect x="204.16" y="421.22" width="2.85" height="26.18" fill="#6d6e71"/>
<rect x="207.01" y="394.68" width="2.85" height="52.72" fill="#b5b7ba"/>
<rect x="209.86" y="384.36" width="2.85" height="63.04" fill="#8a8c8f"/>
<line x1="211.29" y1="384.36" x2="211.29" y2="379.79" stroke="#6d6e71" stroke-width="0.65"/>
<line x1="209.94" y1="379.79" x2="212.64" y2="379.79" stroke="#6d6e71" stroke-width="0.65"/>
<rect x="217.08" y="422.04" width="2.85" height="25.36" fill="#6d6e71"/>
<rect x="219.93" y="395.86" width="2.85" height="51.54" fill="#b5b7ba"/>
<rect x="222.78" y="389.39" width="2.85" height="58.01" fill="#8a8c8f"/>
<line x1="224.21" y1="389.39" x2="224.21" y2="384.52" stroke="#6d6e71" stroke-width="0.65"/>
<line x1="222.86" y1="384.52" x2="225.56" y2="384.52" stroke="#6d6e71" stroke-width="0.65"/>
<rect x="242.93" y="418.65" width="2.85" height="28.75" fill="#6d6e71"/>
<rect x="245.78" y="395.35" width="2.85" height="52.05" fill="#b5b7ba"/>
<rect x="248.63" y="385.80" width="2.85" height="61.60" fill="#8a8c8f"/>
<line x1="250.05" y1="385.80" x2="250.05" y2="383.49" stroke="#6d6e71" stroke-width="0.65"/>
<line x1="248.70" y1="383.49" x2="251.40" y2="383.49" stroke="#6d6e71" stroke-width="0.65"/>
<rect x="255.85" y="419.17" width="2.85" height="28.23" fill="#6d6e71"/>
<rect x="258.70" y="398.38" width="2.85" height="49.02" fill="#b5b7ba"/>
<rect x="261.55" y="390.27" width="2.85" height="57.13" fill="#8a8c8f"/>
<line x1="262.98" y1="390.27" x2="262.98" y2="386.83" stroke="#6d6e71" stroke-width="0.65"/>
<line x1="261.62" y1="386.83" x2="264.33" y2="386.83" stroke="#6d6e71" stroke-width="0.65"/>
<rect x="281.69" y="421.22" width="2.85" height="26.18" fill="#6d6e71"/>
<rect x="284.54" y="396.68" width="2.85" height="50.72" fill="#b5b7ba"/>
<rect x="287.39" y="380.67" width="2.85" height="66.73" fill="#8a8c8f"/>
<line x1="288.82" y1="380.67" x2="288.82" y2="379.28" stroke="#6d6e71" stroke-width="0.65"/>
<line x1="287.47" y1="379.28" x2="290.17" y2="379.28" stroke="#6d6e71" stroke-width="0.65"/>
<rect x="294.62" y="421.22" width="2.85" height="26.18" fill="#6d6e71"/>
<rect x="297.47" y="397.61" width="2.85" height="49.79" fill="#b5b7ba"/>
<rect x="300.32" y="389.60" width="2.85" height="57.80" fill="#8a8c8f"/>
<line x1="301.74" y1="389.60" x2="301.74" y2="383.75" stroke="#6d6e71" stroke-width="0.65"/>
<line x1="300.39" y1="383.75" x2="303.09" y2="383.75" stroke="#6d6e71" stroke-width="0.65"/>
<rect x="320.46" y="420.71" width="2.85" height="26.69" fill="#6d6e71"/>
<rect x="323.31" y="395.86" width="2.85" height="51.54" fill="#b5b7ba"/>
<line x1="324.73" y1="395.86" x2="324.73" y2="394.17" stroke="#6d6e71" stroke-width="0.65"/>
<line x1="323.38" y1="394.17" x2="326.08" y2="394.17" stroke="#6d6e71" stroke-width="0.65"/>
<rect x="326.16" y="378.61" width="2.85" height="68.79" fill="#8a8c8f"/>
<line x1="327.58" y1="378.61" x2="327.58" y2="373.48" stroke="#6d6e71" stroke-width="0.65"/>
<line x1="326.23" y1="373.48" x2="328.93" y2="373.48" stroke="#6d6e71" stroke-width="0.65"/>
<rect x="333.38" y="420.86" width="2.85" height="26.54" fill="#6d6e71"/>
<rect x="336.23" y="396.68" width="2.85" height="50.72" fill="#b5b7ba"/>
<line x1="337.66" y1="396.68" x2="337.66" y2="394.53" stroke="#6d6e71" stroke-width="0.65"/>
<line x1="336.31" y1="394.53" x2="339.01" y2="394.53" stroke="#6d6e71" stroke-width="0.65"/>
<rect x="339.08" y="391.60" width="2.85" height="55.80" fill="#8a8c8f"/>
<line x1="340.51" y1="391.60" x2="340.51" y2="389.39" stroke="#6d6e71" stroke-width="0.65"/>
<line x1="339.16" y1="389.39" x2="341.86" y2="389.39" stroke="#6d6e71" stroke-width="0.65"/>
<rect x="359.22" y="418.14" width="2.85" height="29.26" fill="#6d6e71"/>
<line x1="360.65" y1="418.14" x2="360.65" y2="416.09" stroke="#6d6e71" stroke-width="0.65"/>
<line x1="359.30" y1="416.09" x2="362.00" y2="416.09" stroke="#6d6e71" stroke-width="0.65"/>
<rect x="362.07" y="392.78" width="2.85" height="54.62" fill="#b5b7ba"/>
<line x1="363.50" y1="392.78" x2="363.50" y2="390.93" stroke="#6d6e71" stroke-width="0.65"/>
<line x1="362.15" y1="390.93" x2="364.85" y2="390.93" stroke="#6d6e71" stroke-width="0.65"/>
<rect x="364.92" y="379.79" width="2.85" height="67.61" fill="#8a8c8f"/>
<line x1="366.35" y1="379.79" x2="366.35" y2="376.77" stroke="#6d6e71" stroke-width="0.65"/>
<line x1="365.00" y1="376.77" x2="367.70" y2="376.77" stroke="#6d6e71" stroke-width="0.65"/>
<rect x="372.15" y="419.17" width="2.85" height="28.23" fill="#6d6e71"/>
<rect x="375.00" y="396.68" width="2.85" height="50.72" fill="#b5b7ba"/>
<line x1="376.42" y1="396.68" x2="376.42" y2="395.04" stroke="#6d6e71" stroke-width="0.65"/>
<line x1="375.07" y1="395.04" x2="377.77" y2="395.04" stroke="#6d6e71" stroke-width="0.65"/>
<rect x="377.85" y="388.26" width="2.85" height="59.14" fill="#8a8c8f"/>
<line x1="379.27" y1="388.26" x2="379.27" y2="383.49" stroke="#6d6e71" stroke-width="0.65"/>
<line x1="377.92" y1="383.49" x2="380.62" y2="383.49" stroke="#6d6e71" stroke-width="0.65"/>
<rect x="397.99" y="415.57" width="2.85" height="31.83" fill="#6d6e71"/>
<rect x="400.84" y="393.29" width="2.85" height="54.11" fill="#b5b7ba"/>
<line x1="402.27" y1="393.29" x2="402.27" y2="390.42" stroke="#6d6e71" stroke-width="0.65"/>
<line x1="400.92" y1="390.42" x2="403.62" y2="390.42" stroke="#6d6e71" stroke-width="0.65"/>
<rect x="403.69" y="382.00" width="2.85" height="65.40" fill="#8a8c8f"/>
<line x1="405.12" y1="382.00" x2="405.12" y2="377.59" stroke="#6d6e71" stroke-width="0.65"/>
<line x1="403.77" y1="377.59" x2="406.47" y2="377.59" stroke="#6d6e71" stroke-width="0.65"/>
<rect x="410.91" y="418.14" width="2.85" height="29.26" fill="#6d6e71"/>
<line x1="412.34" y1="418.14" x2="412.34" y2="416.60" stroke="#6d6e71" stroke-width="0.65"/>
<line x1="410.99" y1="416.60" x2="413.69" y2="416.60" stroke="#6d6e71" stroke-width="0.65"/>
<rect x="413.76" y="396.68" width="2.85" height="50.72" fill="#b5b7ba"/>
<line x1="415.19" y1="396.68" x2="415.19" y2="394.53" stroke="#6d6e71" stroke-width="0.65"/>
<line x1="413.84" y1="394.53" x2="416.54" y2="394.53" stroke="#6d6e71" stroke-width="0.65"/>
<rect x="416.61" y="385.39" width="2.85" height="62.01" fill="#8a8c8f"/>
<line x1="418.04" y1="385.39" x2="418.04" y2="376.41" stroke="#6d6e71" stroke-width="0.65"/>
<line x1="416.69" y1="376.41" x2="419.39" y2="376.41" stroke="#6d6e71" stroke-width="0.65"/>
<rect x="436.76" y="417.83" width="2.85" height="29.57" fill="#6d6e71"/>
<line x1="438.18" y1="417.83" x2="438.18" y2="414.55" stroke="#6d6e71" stroke-width="0.65"/>
<line x1="436.83" y1="414.55" x2="439.53" y2="414.55" stroke="#6d6e71" stroke-width="0.65"/>
<rect x="439.61" y="398.38" width="2.85" height="49.02" fill="#b5b7ba"/>
<rect x="442.46" y="381.49" width="2.85" height="65.91" fill="#8a8c8f"/>
<line x1="443.88" y1="381.49" x2="443.88" y2="378.92" stroke="#6d6e71" stroke-width="0.65"/>
<line x1="442.53" y1="378.92" x2="445.23" y2="378.92" stroke="#6d6e71" stroke-width="0.65"/>
<rect x="449.68" y="419.83" width="2.85" height="27.57" fill="#6d6e71"/>
<line x1="451.10" y1="419.83" x2="451.10" y2="417.63" stroke="#6d6e71" stroke-width="0.65"/>
<line x1="449.75" y1="417.63" x2="452.45" y2="417.63" stroke="#6d6e71" stroke-width="0.65"/>
<rect x="452.53" y="419.83" width="2.85" height="27.57" fill="#b5b7ba"/>
<line x1="453.95" y1="419.83" x2="453.95" y2="418.81" stroke="#6d6e71" stroke-width="0.65"/>
<line x1="452.60" y1="418.81" x2="455.30" y2="418.81" stroke="#6d6e71" stroke-width="0.65"/>
<rect x="455.38" y="425.07" width="2.85" height="22.33" fill="#8a8c8f"/>
<line x1="46.90" y1="354.60" x2="46.90" y2="447.80" stroke="#6a6b6e" stroke-width="1.0"/>
<line x1="46.40" y1="447.40" x2="460.90" y2="447.40" stroke="#3a3a3c" stroke-width="1.0"/>
<line x1="46.90" y1="447.40" x2="46.90" y2="449.90" stroke="#3a3a3c" stroke-width="1.0"/>
<line x1="59.82" y1="447.40" x2="59.82" y2="449.90" stroke="#3a3a3c" stroke-width="1.0"/>
<line x1="72.74" y1="447.40" x2="72.74" y2="449.90" stroke="#3a3a3c" stroke-width="1.0"/>
<line x1="85.67" y1="447.40" x2="85.67" y2="449.90" stroke="#3a3a3c" stroke-width="1.0"/>
<line x1="98.59" y1="447.40" x2="98.59" y2="449.90" stroke="#3a3a3c" stroke-width="1.0"/>
<line x1="111.51" y1="447.40" x2="111.51" y2="449.90" stroke="#3a3a3c" stroke-width="1.0"/>
<line x1="124.43" y1="447.40" x2="124.43" y2="449.90" stroke="#3a3a3c" stroke-width="1.0"/>
<line x1="137.35" y1="447.40" x2="137.35" y2="449.90" stroke="#3a3a3c" stroke-width="1.0"/>
<line x1="150.28" y1="447.40" x2="150.28" y2="449.90" stroke="#3a3a3c" stroke-width="1.0"/>
<line x1="163.20" y1="447.40" x2="163.20" y2="449.90" stroke="#3a3a3c" stroke-width="1.0"/>
<line x1="176.12" y1="447.40" x2="176.12" y2="449.90" stroke="#3a3a3c" stroke-width="1.0"/>
<line x1="189.04" y1="447.40" x2="189.04" y2="449.90" stroke="#3a3a3c" stroke-width="1.0"/>
<line x1="201.96" y1="447.40" x2="201.96" y2="449.90" stroke="#3a3a3c" stroke-width="1.0"/>
<line x1="214.88" y1="447.40" x2="214.88" y2="449.90" stroke="#3a3a3c" stroke-width="1.0"/>
<line x1="227.81" y1="447.40" x2="227.81" y2="449.90" stroke="#3a3a3c" stroke-width="1.0"/>
<line x1="240.73" y1="447.40" x2="240.73" y2="449.90" stroke="#3a3a3c" stroke-width="1.0"/>
<line x1="253.65" y1="447.40" x2="253.65" y2="449.90" stroke="#3a3a3c" stroke-width="1.0"/>
<line x1="266.57" y1="447.40" x2="266.57" y2="449.90" stroke="#3a3a3c" stroke-width="1.0"/>
<line x1="279.49" y1="447.40" x2="279.49" y2="449.90" stroke="#3a3a3c" stroke-width="1.0"/>
<line x1="292.42" y1="447.40" x2="292.42" y2="449.90" stroke="#3a3a3c" stroke-width="1.0"/>
<line x1="305.34" y1="447.40" x2="305.34" y2="449.90" stroke="#3a3a3c" stroke-width="1.0"/>
<line x1="318.26" y1="447.40" x2="318.26" y2="449.90" stroke="#3a3a3c" stroke-width="1.0"/>
<line x1="331.18" y1="447.40" x2="331.18" y2="449.90" stroke="#3a3a3c" stroke-width="1.0"/>
<line x1="344.10" y1="447.40" x2="344.10" y2="449.90" stroke="#3a3a3c" stroke-width="1.0"/>
<line x1="357.02" y1="447.40" x2="357.02" y2="449.90" stroke="#3a3a3c" stroke-width="1.0"/>
<line x1="369.95" y1="447.40" x2="369.95" y2="449.90" stroke="#3a3a3c" stroke-width="1.0"/>
<line x1="382.87" y1="447.40" x2="382.87" y2="449.90" stroke="#3a3a3c" stroke-width="1.0"/>
<line x1="395.79" y1="447.40" x2="395.79" y2="449.90" stroke="#3a3a3c" stroke-width="1.0"/>
<line x1="408.71" y1="447.40" x2="408.71" y2="449.90" stroke="#3a3a3c" stroke-width="1.0"/>
<line x1="421.63" y1="447.40" x2="421.63" y2="449.90" stroke="#3a3a3c" stroke-width="1.0"/>
<line x1="434.56" y1="447.40" x2="434.56" y2="449.90" stroke="#3a3a3c" stroke-width="1.0"/>
<line x1="447.48" y1="447.40" x2="447.48" y2="449.90" stroke="#3a3a3c" stroke-width="1.0"/>
<line x1="460.40" y1="447.40" x2="460.40" y2="449.90" stroke="#3a3a3c" stroke-width="1.0"/>
<text x="55.56" y="453.30" text-anchor="end" transform="rotate(-90 55.56 453.30)" textLength="35.0" lengthAdjust="spacingAndGlyphs">Medium</text>
<text x="68.48" y="453.30" text-anchor="end" transform="rotate(-90 68.48 453.30)" textLength="32.3" lengthAdjust="spacingAndGlyphs"><tspan font-style="italic">L. casei</tspan></text>
<text x="59.82" y="503.10" text-anchor="middle">1</text>
<text x="94.33" y="453.30" text-anchor="end" transform="rotate(-90 94.33 453.30)" textLength="35.0" lengthAdjust="spacingAndGlyphs">Medium</text>
<text x="107.25" y="453.30" text-anchor="end" transform="rotate(-90 107.25 453.30)" textLength="32.3" lengthAdjust="spacingAndGlyphs"><tspan font-style="italic">L. casei</tspan></text>
<text x="98.59" y="503.10" text-anchor="middle">2</text>
<text x="133.09" y="453.30" text-anchor="end" transform="rotate(-90 133.09 453.30)" textLength="35.0" lengthAdjust="spacingAndGlyphs">Medium</text>
<text x="146.01" y="453.30" text-anchor="end" transform="rotate(-90 146.01 453.30)" textLength="32.3" lengthAdjust="spacingAndGlyphs"><tspan font-style="italic">L. casei</tspan></text>
<text x="137.35" y="503.10" text-anchor="middle">3</text>
<text x="171.86" y="453.30" text-anchor="end" transform="rotate(-90 171.86 453.30)" textLength="35.0" lengthAdjust="spacingAndGlyphs">Medium</text>
<text x="184.78" y="453.30" text-anchor="end" transform="rotate(-90 184.78 453.30)" textLength="32.3" lengthAdjust="spacingAndGlyphs"><tspan font-style="italic">L. casei</tspan></text>
<text x="176.12" y="503.10" text-anchor="middle">4</text>
<text x="210.62" y="453.30" text-anchor="end" transform="rotate(-90 210.62 453.30)" textLength="35.0" lengthAdjust="spacingAndGlyphs">Medium</text>
<text x="223.55" y="453.30" text-anchor="end" transform="rotate(-90 223.55 453.30)" textLength="32.3" lengthAdjust="spacingAndGlyphs"><tspan font-style="italic">L. casei</tspan></text>
<text x="214.88" y="503.10" text-anchor="middle">5</text>
<text x="249.39" y="453.30" text-anchor="end" transform="rotate(-90 249.39 453.30)" textLength="35.0" lengthAdjust="spacingAndGlyphs">Medium</text>
<text x="262.31" y="453.30" text-anchor="end" transform="rotate(-90 262.31 453.30)" textLength="32.3" lengthAdjust="spacingAndGlyphs"><tspan font-style="italic">L. casei</tspan></text>
<text x="253.65" y="503.10" text-anchor="middle">6</text>
<text x="288.15" y="453.30" text-anchor="end" transform="rotate(-90 288.15 453.30)" textLength="35.0" lengthAdjust="spacingAndGlyphs">Medium</text>
<text x="301.08" y="453.30" text-anchor="end" transform="rotate(-90 301.08 453.30)" textLength="32.3" lengthAdjust="spacingAndGlyphs"><tspan font-style="italic">L. casei</tspan></text>
<text x="292.42" y="503.10" text-anchor="middle">7</text>
<text x="326.92" y="453.30" text-anchor="end" transform="rotate(-90 326.92 453.30)" textLength="35.0" lengthAdjust="spacingAndGlyphs">Medium</text>
<text x="339.84" y="453.30" text-anchor="end" transform="rotate(-90 339.84 453.30)" textLength="32.3" lengthAdjust="spacingAndGlyphs"><tspan font-style="italic">L. casei</tspan></text>
<text x="331.18" y="503.10" text-anchor="middle">8</text>
<text x="365.69" y="453.30" text-anchor="end" transform="rotate(-90 365.69 453.30)" textLength="35.0" lengthAdjust="spacingAndGlyphs">Medium</text>
<text x="378.61" y="453.30" text-anchor="end" transform="rotate(-90 378.61 453.30)" textLength="32.3" lengthAdjust="spacingAndGlyphs"><tspan font-style="italic">L. casei</tspan></text>
<text x="369.95" y="503.10" text-anchor="middle">9</text>
<text x="404.45" y="453.30" text-anchor="end" transform="rotate(-90 404.45 453.30)" textLength="35.0" lengthAdjust="spacingAndGlyphs">Medium</text>
<text x="417.37" y="453.30" text-anchor="end" transform="rotate(-90 417.37 453.30)" textLength="32.3" lengthAdjust="spacingAndGlyphs"><tspan font-style="italic">L. casei</tspan></text>
<text x="408.71" y="503.10" text-anchor="middle">10</text>
<text x="443.22" y="453.30" text-anchor="end" transform="rotate(-90 443.22 453.30)" textLength="35.0" lengthAdjust="spacingAndGlyphs">Medium</text>
<text x="456.14" y="453.30" text-anchor="end" transform="rotate(-90 456.14 453.30)" textLength="32.3" lengthAdjust="spacingAndGlyphs"><tspan font-style="italic">L. casei</tspan></text>
<text x="446.65" y="503.10" text-anchor="middle" textLength="51.5" lengthAdjust="spacingAndGlyphs">Conditioned</text>
<text x="446.65" y="514.60" text-anchor="middle">media</text>
<text x="30.00" y="503.10">Fr</text>
<rect x="268.40" y="337.10" width="4.30" height="4.30" fill="#6d6e71"/>
<text x="275.80" y="342.70">24 h</text>
<rect x="315.00" y="337.10" width="4.30" height="4.30" fill="#b5b7ba"/>
<text x="323.00" y="342.70">48 h</text>
<rect x="358.00" y="337.10" width="4.30" height="4.30" fill="#8a8c8f"/>
<text x="366.40" y="342.70">72 h</text>
<text x="8.40" y="592.60" text-anchor="middle" transform="rotate(-90 8.40 592.60)" textLength="118.8" lengthAdjust="spacingAndGlyphs">Cell density (signal intensity</text>
<text x="19.60" y="592.20" text-anchor="middle" transform="rotate(-90 19.60 592.20)" textLength="89.6" lengthAdjust="spacingAndGlyphs">at OD 510 nm) (<tspan font-style="italic">n</tspan>=5)</text>
<line x1="44.30" y1="637.30" x2="46.90" y2="637.30" stroke="#3a3a3c" stroke-width="1.0"/>
<text x="41.40" y="640.70" text-anchor="end">0</text>
<line x1="44.30" y1="627.08" x2="46.90" y2="627.08" stroke="#3a3a3c" stroke-width="1.0"/>
<text x="41.40" y="630.48" text-anchor="end">0.2</text>
<line x1="44.30" y1="616.86" x2="46.90" y2="616.86" stroke="#3a3a3c" stroke-width="1.0"/>
<text x="41.40" y="620.26" text-anchor="end">0.4</text>
<line x1="44.30" y1="606.63" x2="46.90" y2="606.63" stroke="#3a3a3c" stroke-width="1.0"/>
<text x="41.40" y="610.03" text-anchor="end">0.6</text>
<line x1="44.30" y1="596.41" x2="46.90" y2="596.41" stroke="#3a3a3c" stroke-width="1.0"/>
<text x="41.40" y="599.81" text-anchor="end">0.8</text>
<line x1="44.30" y1="586.19" x2="46.90" y2="586.19" stroke="#3a3a3c" stroke-width="1.0"/>
<text x="41.40" y="589.59" text-anchor="end">1</text>
<line x1="44.30" y1="575.97" x2="46.90" y2="575.97" stroke="#3a3a3c" stroke-width="1.0"/>
<text x="41.40" y="579.37" text-anchor="end">1.2</text>
<line x1="44.30" y1="565.74" x2="46.90" y2="565.74" stroke="#3a3a3c" stroke-width="1.0"/>
<text x="41.40" y="569.14" text-anchor="end">1.4</text>
<line x1="44.30" y1="555.52" x2="46.90" y2="555.52" stroke="#3a3a3c" stroke-width="1.0"/>
<text x="41.40" y="558.92" text-anchor="end">1.6</text>
<line x1="44.30" y1="545.30" x2="46.90" y2="545.30" stroke="#3a3a3c" stroke-width="1.0"/>
<text x="41.40" y="548.70" text-anchor="end">1.8</text>
<rect x="49.10" y="609.80" width="2.85" height="27.50" fill="#6d6e71"/>
<rect x="51.95" y="581.44" width="2.85" height="55.86" fill="#b5b7ba"/>
<rect x="54.80" y="552.10" width="2.85" height="85.20" fill="#8a8c8f"/>
<line x1="56.23" y1="552.10" x2="56.23" y2="551.59" stroke="#6d6e71" stroke-width="0.65"/>
<line x1="54.88" y1="551.59" x2="57.58" y2="551.59" stroke="#6d6e71" stroke-width="0.65"/>
<rect x="62.02" y="610.72" width="2.85" height="26.58" fill="#6d6e71"/>
<rect x="64.87" y="583.28" width="2.85" height="54.02" fill="#b5b7ba"/>
<rect x="67.72" y="558.90" width="2.85" height="78.40" fill="#8a8c8f"/>
<line x1="69.15" y1="558.90" x2="69.15" y2="557.26" stroke="#6d6e71" stroke-width="0.65"/>
<line x1="67.80" y1="557.26" x2="70.50" y2="557.26" stroke="#6d6e71" stroke-width="0.65"/>
<rect x="87.87" y="608.52" width="2.85" height="28.78" fill="#6d6e71"/>
<rect x="90.72" y="580.57" width="2.85" height="56.73" fill="#b5b7ba"/>
<rect x="93.57" y="554.30" width="2.85" height="83.00" fill="#8a8c8f"/>
<line x1="94.99" y1="554.30" x2="94.99" y2="552.46" stroke="#6d6e71" stroke-width="0.65"/>
<line x1="93.64" y1="552.46" x2="96.34" y2="552.46" stroke="#6d6e71" stroke-width="0.65"/>
<rect x="100.79" y="610.21" width="2.85" height="27.09" fill="#6d6e71"/>
<rect x="103.64" y="581.44" width="2.85" height="55.86" fill="#b5b7ba"/>
<rect x="106.49" y="554.86" width="2.85" height="82.44" fill="#8a8c8f"/>
<rect x="126.63" y="606.33" width="2.85" height="30.97" fill="#6d6e71"/>
<line x1="128.06" y1="606.33" x2="128.06" y2="602.29" stroke="#6d6e71" stroke-width="0.65"/>
<line x1="126.71" y1="602.29" x2="129.41" y2="602.29" stroke="#6d6e71" stroke-width="0.65"/>
<rect x="129.48" y="578.57" width="2.85" height="58.73" fill="#b5b7ba"/>
<rect x="132.33" y="555.73" width="2.85" height="81.57" fill="#8a8c8f"/>
<line x1="133.76" y1="555.73" x2="133.76" y2="553.17" stroke="#6d6e71" stroke-width="0.65"/>
<line x1="132.41" y1="553.17" x2="135.11" y2="553.17" stroke="#6d6e71" stroke-width="0.65"/>
<rect x="139.55" y="610.72" width="2.85" height="26.58" fill="#6d6e71"/>
<rect x="142.40" y="580.26" width="2.85" height="57.04" fill="#b5b7ba"/>
<rect x="145.25" y="561.14" width="2.85" height="76.16" fill="#8a8c8f"/>
<line x1="146.68" y1="561.14" x2="146.68" y2="558.28" stroke="#6d6e71" stroke-width="0.65"/>
<line x1="145.33" y1="558.28" x2="148.03" y2="558.28" stroke="#6d6e71" stroke-width="0.65"/>
<rect x="165.40" y="606.84" width="2.85" height="30.46" fill="#6d6e71"/>
<line x1="166.82" y1="606.84" x2="166.82" y2="602.29" stroke="#6d6e71" stroke-width="0.65"/>
<line x1="165.47" y1="602.29" x2="168.17" y2="602.29" stroke="#6d6e71" stroke-width="0.65"/>
<rect x="168.25" y="578.57" width="2.85" height="58.73" fill="#b5b7ba"/>
<rect x="171.10" y="555.22" width="2.85" height="82.08" fill="#8a8c8f"/>
<line x1="172.52" y1="555.22" x2="172.52" y2="553.99" stroke="#6d6e71" stroke-width="0.65"/>
<line x1="171.17" y1="553.99" x2="173.87" y2="553.99" stroke="#6d6e71" stroke-width="0.65"/>
<rect x="178.32" y="610.72" width="2.85" height="26.58" fill="#6d6e71"/>
<rect x="181.17" y="581.44" width="2.85" height="55.86" fill="#b5b7ba"/>
<rect x="184.02" y="559.97" width="2.85" height="77.33" fill="#8a8c8f"/>
<line x1="185.44" y1="559.97" x2="185.44" y2="556.54" stroke="#6d6e71" stroke-width="0.65"/>
<line x1="184.09" y1="556.54" x2="186.79" y2="556.54" stroke="#6d6e71" stroke-width="0.65"/>
<rect x="204.16" y="608.01" width="2.85" height="29.29" fill="#6d6e71"/>
<line x1="205.59" y1="608.01" x2="205.59" y2="606.33" stroke="#6d6e71" stroke-width="0.65"/>
<line x1="204.24" y1="606.33" x2="206.94" y2="606.33" stroke="#6d6e71" stroke-width="0.65"/>
<rect x="207.01" y="578.93" width="2.85" height="58.37" fill="#b5b7ba"/>
<rect x="209.86" y="556.54" width="2.85" height="80.76" fill="#8a8c8f"/>
<line x1="211.29" y1="556.54" x2="211.29" y2="554.50" stroke="#6d6e71" stroke-width="0.65"/>
<line x1="209.94" y1="554.50" x2="212.64" y2="554.50" stroke="#6d6e71" stroke-width="0.65"/>
<rect x="217.08" y="610.21" width="2.85" height="27.09" fill="#6d6e71"/>
<rect x="219.93" y="579.24" width="2.85" height="58.06" fill="#b5b7ba"/>
<line x1="221.36" y1="579.24" x2="221.36" y2="578.37" stroke="#6d6e71" stroke-width="0.65"/>
<line x1="220.01" y1="578.37" x2="222.71" y2="578.37" stroke="#6d6e71" stroke-width="0.65"/>
<rect x="222.78" y="561.66" width="2.85" height="75.64" fill="#8a8c8f"/>
<line x1="224.21" y1="561.66" x2="224.21" y2="558.59" stroke="#6d6e71" stroke-width="0.65"/>
<line x1="222.86" y1="558.59" x2="225.56" y2="558.59" stroke="#6d6e71" stroke-width="0.65"/>
<rect x="242.93" y="604.79" width="2.85" height="32.51" fill="#6d6e71"/>
<line x1="244.35" y1="604.79" x2="244.35" y2="602.54" stroke="#6d6e71" stroke-width="0.65"/>
<line x1="243.00" y1="602.54" x2="245.70" y2="602.54" stroke="#6d6e71" stroke-width="0.65"/>
<rect x="245.78" y="580.92" width="2.85" height="56.38" fill="#b5b7ba"/>
<line x1="247.20" y1="580.92" x2="247.20" y2="580.06" stroke="#6d6e71" stroke-width="0.65"/>
<line x1="245.85" y1="580.06" x2="248.55" y2="580.06" stroke="#6d6e71" stroke-width="0.65"/>
<rect x="248.63" y="559.97" width="2.85" height="77.33" fill="#8a8c8f"/>
<line x1="250.05" y1="559.97" x2="250.05" y2="556.39" stroke="#6d6e71" stroke-width="0.65"/>
<line x1="248.70" y1="556.39" x2="251.40" y2="556.39" stroke="#6d6e71" stroke-width="0.65"/>
<rect x="255.85" y="605.61" width="2.85" height="31.69" fill="#6d6e71"/>
<rect x="258.70" y="580.62" width="2.85" height="56.68" fill="#b5b7ba"/>
<line x1="260.12" y1="580.62" x2="260.12" y2="578.93" stroke="#6d6e71" stroke-width="0.65"/>
<line x1="258.77" y1="578.93" x2="261.48" y2="578.93" stroke="#6d6e71" stroke-width="0.65"/>
<rect x="261.55" y="563.19" width="2.85" height="74.11" fill="#8a8c8f"/>
<line x1="262.98" y1="563.19" x2="262.98" y2="561.50" stroke="#6d6e71" stroke-width="0.65"/>
<line x1="261.62" y1="561.50" x2="264.33" y2="561.50" stroke="#6d6e71" stroke-width="0.65"/>
<rect x="281.69" y="603.46" width="2.85" height="33.84" fill="#6d6e71"/>
<rect x="284.54" y="580.62" width="2.85" height="56.68" fill="#b5b7ba"/>
<rect x="287.39" y="557.77" width="2.85" height="79.53" fill="#8a8c8f"/>
<line x1="288.82" y1="557.77" x2="288.82" y2="556.90" stroke="#6d6e71" stroke-width="0.65"/>
<line x1="287.47" y1="556.90" x2="290.17" y2="556.90" stroke="#6d6e71" stroke-width="0.65"/>
<rect x="294.62" y="608.52" width="2.85" height="28.78" fill="#6d6e71"/>
<line x1="296.04" y1="608.52" x2="296.04" y2="606.84" stroke="#6d6e71" stroke-width="0.65"/>
<line x1="294.69" y1="606.84" x2="297.39" y2="606.84" stroke="#6d6e71" stroke-width="0.65"/>
<rect x="297.47" y="608.88" width="2.85" height="28.42" fill="#b5b7ba"/>
<line x1="298.89" y1="608.88" x2="298.89" y2="607.35" stroke="#6d6e71" stroke-width="0.65"/>
<line x1="297.54" y1="607.35" x2="300.24" y2="607.35" stroke="#6d6e71" stroke-width="0.65"/>
<rect x="300.32" y="616.14" width="2.85" height="21.16" fill="#8a8c8f"/>
<rect x="320.46" y="603.77" width="2.85" height="33.53" fill="#6d6e71"/>
<rect x="323.31" y="596.41" width="2.85" height="40.89" fill="#b5b7ba"/>
<line x1="324.73" y1="596.41" x2="324.73" y2="593.65" stroke="#6d6e71" stroke-width="0.65"/>
<line x1="323.38" y1="593.65" x2="326.08" y2="593.65" stroke="#6d6e71" stroke-width="0.65"/>
<rect x="326.16" y="600.60" width="2.85" height="36.70" fill="#8a8c8f"/>
<line x1="327.58" y1="600.60" x2="327.58" y2="597.54" stroke="#6d6e71" stroke-width="0.65"/>
<line x1="326.23" y1="597.54" x2="328.93" y2="597.54" stroke="#6d6e71" stroke-width="0.65"/>
<rect x="333.38" y="604.28" width="2.85" height="33.02" fill="#6d6e71"/>
<rect x="336.23" y="591.61" width="2.85" height="45.69" fill="#b5b7ba"/>
<line x1="337.66" y1="591.61" x2="337.66" y2="590.74" stroke="#6d6e71" stroke-width="0.65"/>
<line x1="336.31" y1="590.74" x2="339.01" y2="590.74" stroke="#6d6e71" stroke-width="0.65"/>
<rect x="339.08" y="582.61" width="2.85" height="54.69" fill="#8a8c8f"/>
<line x1="340.51" y1="582.61" x2="340.51" y2="579.44" stroke="#6d6e71" stroke-width="0.65"/>
<line x1="339.16" y1="579.44" x2="341.86" y2="579.44" stroke="#6d6e71" stroke-width="0.65"/>
<rect x="359.22" y="602.29" width="2.85" height="35.01" fill="#6d6e71"/>
<rect x="362.07" y="588.23" width="2.85" height="49.07" fill="#b5b7ba"/>
<line x1="363.50" y1="588.23" x2="363.50" y2="586.55" stroke="#6d6e71" stroke-width="0.65"/>
<line x1="362.15" y1="586.55" x2="364.85" y2="586.55" stroke="#6d6e71" stroke-width="0.65"/>
<rect x="364.92" y="576.73" width="2.85" height="60.57" fill="#8a8c8f"/>
<line x1="366.35" y1="576.73" x2="366.35" y2="572.13" stroke="#6d6e71" stroke-width="0.65"/>
<line x1="365.00" y1="572.13" x2="367.70" y2="572.13" stroke="#6d6e71" stroke-width="0.65"/>
<rect x="372.15" y="604.28" width="2.85" height="33.02" fill="#6d6e71"/>
<rect x="375.00" y="583.99" width="2.85" height="53.31" fill="#b5b7ba"/>
<rect x="377.85" y="559.46" width="2.85" height="77.84" fill="#8a8c8f"/>
<line x1="379.27" y1="559.46" x2="379.27" y2="556.90" stroke="#6d6e71" stroke-width="0.65"/>
<line x1="377.92" y1="556.90" x2="380.62" y2="556.90" stroke="#6d6e71" stroke-width="0.65"/>
<rect x="397.99" y="602.60" width="2.85" height="34.70" fill="#6d6e71"/>
<rect x="400.84" y="581.95" width="2.85" height="55.35" fill="#b5b7ba"/>
<rect x="403.69" y="561.14" width="2.85" height="76.16" fill="#8a8c8f"/>
<line x1="405.12" y1="561.14" x2="405.12" y2="556.90" stroke="#6d6e71" stroke-width="0.65"/>
<line x1="403.77" y1="556.90" x2="406.47" y2="556.90" stroke="#6d6e71" stroke-width="0.65"/>
<rect x="410.91" y="602.60" width="2.85" height="34.70" fill="#6d6e71"/>
<rect x="413.76" y="583.99" width="2.85" height="53.31" fill="#b5b7ba"/>
<rect x="416.61" y="569.94" width="2.85" height="67.36" fill="#8a8c8f"/>
<line x1="418.04" y1="569.94" x2="418.04" y2="567.38" stroke="#6d6e71" stroke-width="0.65"/>
<line x1="416.69" y1="567.38" x2="419.39" y2="567.38" stroke="#6d6e71" stroke-width="0.65"/>
<rect x="436.76" y="605.15" width="2.85" height="32.15" fill="#6d6e71"/>
<rect x="439.61" y="584.35" width="2.85" height="52.95" fill="#b5b7ba"/>
<rect x="442.46" y="561.96" width="2.85" height="75.34" fill="#8a8c8f"/>
<line x1="443.88" y1="561.96" x2="443.88" y2="559.10" stroke="#6d6e71" stroke-width="0.65"/>
<line x1="442.53" y1="559.10" x2="445.23" y2="559.10" stroke="#6d6e71" stroke-width="0.65"/>
<rect x="449.68" y="606.84" width="2.85" height="30.46" fill="#6d6e71"/>
<rect x="452.53" y="608.52" width="2.85" height="28.78" fill="#b5b7ba"/>
<rect x="455.38" y="616.50" width="2.85" height="20.80" fill="#8a8c8f"/>
<line x1="46.90" y1="544.90" x2="46.90" y2="637.70" stroke="#6a6b6e" stroke-width="1.0"/>
<line x1="46.40" y1="637.30" x2="460.90" y2="637.30" stroke="#3a3a3c" stroke-width="1.0"/>
<line x1="46.90" y1="637.30" x2="46.90" y2="639.80" stroke="#3a3a3c" stroke-width="1.0"/>
<line x1="59.82" y1="637.30" x2="59.82" y2="639.80" stroke="#3a3a3c" stroke-width="1.0"/>
<line x1="72.74" y1="637.30" x2="72.74" y2="639.80" stroke="#3a3a3c" stroke-width="1.0"/>
<line x1="85.67" y1="637.30" x2="85.67" y2="639.80" stroke="#3a3a3c" stroke-width="1.0"/>
<line x1="98.59" y1="637.30" x2="98.59" y2="639.80" stroke="#3a3a3c" stroke-width="1.0"/>
<line x1="111.51" y1="637.30" x2="111.51" y2="639.80" stroke="#3a3a3c" stroke-width="1.0"/>
<line x1="124.43" y1="637.30" x2="124.43" y2="639.80" stroke="#3a3a3c" stroke-width="1.0"/>
<line x1="137.35" y1="637.30" x2="137.35" y2="639.80" stroke="#3a3a3c" stroke-width="1.0"/>
<line x1="150.28" y1="637.30" x2="150.28" y2="639.80" stroke="#3a3a3c" stroke-width="1.0"/>
<line x1="163.20" y1="637.30" x2="163.20" y2="639.80" stroke="#3a3a3c" stroke-width="1.0"/>
<line x1="176.12" y1="637.30" x2="176.12" y2="639.80" stroke="#3a3a3c" stroke-width="1.0"/>
<line x1="189.04" y1="637.30" x2="189.04" y2="639.80" stroke="#3a3a3c" stroke-width="1.0"/>
<line x1="201.96" y1="637.30" x2="201.96" y2="639.80" stroke="#3a3a3c" stroke-width="1.0"/>
<line x1="214.88" y1="637.30" x2="214.88" y2="639.80" stroke="#3a3a3c" stroke-width="1.0"/>
<line x1="227.81" y1="637.30" x2="227.81" y2="639.80" stroke="#3a3a3c" stroke-width="1.0"/>
<line x1="240.73" y1="637.30" x2="240.73" y2="639.80" stroke="#3a3a3c" stroke-width="1.0"/>
<line x1="253.65" y1="637.30" x2="253.65" y2="639.80" stroke="#3a3a3c" stroke-width="1.0"/>
<line x1="266.57" y1="637.30" x2="266.57" y2="639.80" stroke="#3a3a3c" stroke-width="1.0"/>
<line x1="279.49" y1="637.30" x2="279.49" y2="639.80" stroke="#3a3a3c" stroke-width="1.0"/>
<line x1="292.42" y1="637.30" x2="292.42" y2="639.80" stroke="#3a3a3c" stroke-width="1.0"/>
<line x1="305.34" y1="637.30" x2="305.34" y2="639.80" stroke="#3a3a3c" stroke-width="1.0"/>
<line x1="318.26" y1="637.30" x2="318.26" y2="639.80" stroke="#3a3a3c" stroke-width="1.0"/>
<line x1="331.18" y1="637.30" x2="331.18" y2="639.80" stroke="#3a3a3c" stroke-width="1.0"/>
<line x1="344.10" y1="637.30" x2="344.10" y2="639.80" stroke="#3a3a3c" stroke-width="1.0"/>
<line x1="357.02" y1="637.30" x2="357.02" y2="639.80" stroke="#3a3a3c" stroke-width="1.0"/>
<line x1="369.95" y1="637.30" x2="369.95" y2="639.80" stroke="#3a3a3c" stroke-width="1.0"/>
<line x1="382.87" y1="637.30" x2="382.87" y2="639.80" stroke="#3a3a3c" stroke-width="1.0"/>
<line x1="395.79" y1="637.30" x2="395.79" y2="639.80" stroke="#3a3a3c" stroke-width="1.0"/>
<line x1="408.71" y1="637.30" x2="408.71" y2="639.80" stroke="#3a3a3c" stroke-width="1.0"/>
<line x1="421.63" y1="637.30" x2="421.63" y2="639.80" stroke="#3a3a3c" stroke-width="1.0"/>
<line x1="434.56" y1="637.30" x2="434.56" y2="639.80" stroke="#3a3a3c" stroke-width="1.0"/>
<line x1="447.48" y1="637.30" x2="447.48" y2="639.80" stroke="#3a3a3c" stroke-width="1.0"/>
<line x1="460.40" y1="637.30" x2="460.40" y2="639.80" stroke="#3a3a3c" stroke-width="1.0"/>
<text x="55.56" y="643.20" text-anchor="end" transform="rotate(-90 55.56 643.20)" textLength="35.0" lengthAdjust="spacingAndGlyphs">Medium</text>
<text x="68.48" y="643.20" text-anchor="end" transform="rotate(-90 68.48 643.20)" textLength="32.3" lengthAdjust="spacingAndGlyphs"><tspan font-style="italic">L. casei</tspan></text>
<text x="59.82" y="697.00" text-anchor="middle">11</text>
<text x="94.33" y="643.20" text-anchor="end" transform="rotate(-90 94.33 643.20)" textLength="35.0" lengthAdjust="spacingAndGlyphs">Medium</text>
<text x="107.25" y="643.20" text-anchor="end" transform="rotate(-90 107.25 643.20)" textLength="32.3" lengthAdjust="spacingAndGlyphs"><tspan font-style="italic">L. casei</tspan></text>
<text x="98.59" y="697.00" text-anchor="middle">12</text>
<text x="133.09" y="643.20" text-anchor="end" transform="rotate(-90 133.09 643.20)" textLength="35.0" lengthAdjust="spacingAndGlyphs">Medium</text>
<text x="146.01" y="643.20" text-anchor="end" transform="rotate(-90 146.01 643.20)" textLength="32.3" lengthAdjust="spacingAndGlyphs"><tspan font-style="italic">L. casei</tspan></text>
<text x="137.35" y="697.00" text-anchor="middle">13</text>
<text x="171.86" y="643.20" text-anchor="end" transform="rotate(-90 171.86 643.20)" textLength="35.0" lengthAdjust="spacingAndGlyphs">Medium</text>
<text x="184.78" y="643.20" text-anchor="end" transform="rotate(-90 184.78 643.20)" textLength="32.3" lengthAdjust="spacingAndGlyphs"><tspan font-style="italic">L. casei</tspan></text>
<text x="176.12" y="697.00" text-anchor="middle">14</text>
<text x="210.62" y="643.20" text-anchor="end" transform="rotate(-90 210.62 643.20)" textLength="35.0" lengthAdjust="spacingAndGlyphs">Medium</text>
<text x="223.55" y="643.20" text-anchor="end" transform="rotate(-90 223.55 643.20)" textLength="32.3" lengthAdjust="spacingAndGlyphs"><tspan font-style="italic">L. casei</tspan></text>
<text x="214.88" y="697.00" text-anchor="middle">15</text>
<text x="249.39" y="643.20" text-anchor="end" transform="rotate(-90 249.39 643.20)" textLength="35.0" lengthAdjust="spacingAndGlyphs">Medium</text>
<text x="262.31" y="643.20" text-anchor="end" transform="rotate(-90 262.31 643.20)" textLength="32.3" lengthAdjust="spacingAndGlyphs"><tspan font-style="italic">L. casei</tspan></text>
<text x="253.65" y="697.00" text-anchor="middle">16</text>
<text x="288.15" y="643.20" text-anchor="end" transform="rotate(-90 288.15 643.20)" textLength="35.0" lengthAdjust="spacingAndGlyphs">Medium</text>
<text x="301.08" y="643.20" text-anchor="end" transform="rotate(-90 301.08 643.20)" textLength="32.3" lengthAdjust="spacingAndGlyphs"><tspan font-style="italic">L. casei</tspan></text>
<text x="292.42" y="697.00" text-anchor="middle">17</text>
<text x="326.92" y="643.20" text-anchor="end" transform="rotate(-90 326.92 643.20)" textLength="35.0" lengthAdjust="spacingAndGlyphs">Medium</text>
<text x="339.84" y="643.20" text-anchor="end" transform="rotate(-90 339.84 643.20)" textLength="32.3" lengthAdjust="spacingAndGlyphs"><tspan font-style="italic">L. casei</tspan></text>
<text x="331.18" y="697.00" text-anchor="middle">18</text>
<text x="365.69" y="643.20" text-anchor="end" transform="rotate(-90 365.69 643.20)" textLength="35.0" lengthAdjust="spacingAndGlyphs">Medium</text>
<text x="378.61" y="643.20" text-anchor="end" transform="rotate(-90 378.61 643.20)" textLength="32.3" lengthAdjust="spacingAndGlyphs"><tspan font-style="italic">L. casei</tspan></text>
<text x="369.95" y="697.00" text-anchor="middle">19</text>
<text x="404.45" y="643.20" text-anchor="end" transform="rotate(-90 404.45 643.20)" textLength="35.0" lengthAdjust="spacingAndGlyphs">Medium</text>
<text x="417.37" y="643.20" text-anchor="end" transform="rotate(-90 417.37 643.20)" textLength="32.3" lengthAdjust="spacingAndGlyphs"><tspan font-style="italic">L. casei</tspan></text>
<text x="408.71" y="697.00" text-anchor="middle">20</text>
<text x="443.22" y="643.20" text-anchor="end" transform="rotate(-90 443.22 643.20)" textLength="35.0" lengthAdjust="spacingAndGlyphs">Medium</text>
<text x="456.14" y="643.20" text-anchor="end" transform="rotate(-90 456.14 643.20)" textLength="32.3" lengthAdjust="spacingAndGlyphs"><tspan font-style="italic">L. casei</tspan></text>
<text x="446.65" y="697.00" text-anchor="middle" textLength="51.5" lengthAdjust="spacingAndGlyphs">Conditioned</text>
<text x="446.65" y="708.50" text-anchor="middle">media</text>
<text x="30.00" y="697.00">Fr</text>
<rect x="268.40" y="541.60" width="4.30" height="4.30" fill="#6d6e71"/>
<text x="275.80" y="547.20">24 h</text>
<rect x="315.00" y="541.60" width="4.30" height="4.30" fill="#b5b7ba"/>
<text x="323.00" y="547.20">48 h</text>
<rect x="358.00" y="541.60" width="4.30" height="4.30" fill="#8a8c8f"/>
<text x="366.40" y="547.20">72 h</text>
</svg>
</body></html>
